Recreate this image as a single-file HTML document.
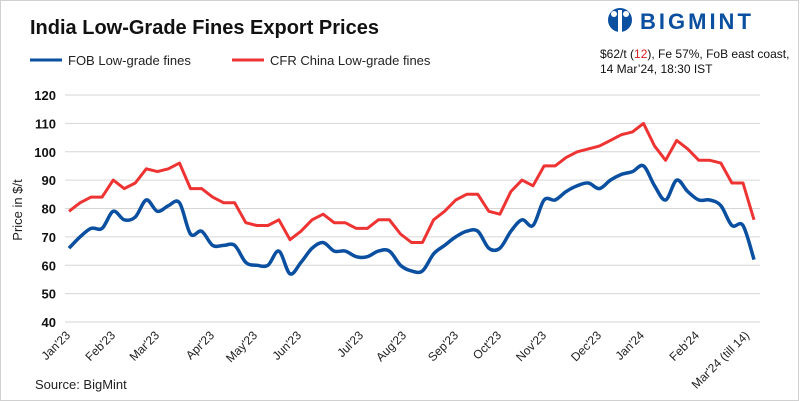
<!DOCTYPE html>
<html><head><meta charset="utf-8"><style>
body{margin:0;background:#fff;}
svg{display:block;font-family:"Liberation Sans",sans-serif;}
</style></head><body>
<svg id="s" width="800" height="401" xmlns="http://www.w3.org/2000/svg">
<rect x="0.5" y="0.5" width="798" height="400" fill="#fff" stroke="#d0d0d0"/>
<text x="30" y="34" font-size="20" font-weight="bold" fill="#111">India Low-Grade Fines Export Prices</text>
<line x1="30" y1="60" x2="62" y2="60" stroke="#0a4fa0" stroke-width="3"/>
<text x="68" y="65" font-size="13" fill="#222">FOB Low-grade fines</text>
<line x1="232" y1="60" x2="264" y2="60" stroke="#ee3333" stroke-width="3"/>
<text x="270" y="65" font-size="13" fill="#222">CFR China Low-grade fines</text>
<g fill="#0a4fa0">
<circle cx="620" cy="20" r="12"/>
<text x="640" y="29" font-size="22" font-weight="bold" letter-spacing="3">BIGMINT</text>
</g>
<g fill="#fff"><circle cx="614" cy="14" r="3"/><circle cx="626" cy="14" r="3"/><rect x="618" y="10" width="4" height="22"/></g>
<text x="600" y="58" font-size="12" fill="#111">$62/t (<tspan fill="#e02020">12</tspan>), Fe 57%, FoB east coast,</text>
<text x="600" y="73" font-size="12" fill="#111">14 Mar’24, 18:30 IST</text>
<g id="grid"></g>
<text transform="translate(22,210) rotate(-90)" font-size="13" text-anchor="middle" fill="#222">Price in $/t</text>
<g id="xl" font-size="12" fill="#222" text-anchor="end"></g>
<path id="red" fill="none" stroke="#ee3333" stroke-width="3" stroke-linejoin="round"/>
<path id="blue" fill="none" stroke="#0a4fa0" stroke-width="3.5" stroke-linejoin="round"/>
<text x="35" y="389" font-size="13" fill="#222">Source: BigMint</text>
</svg>
<script>
var NS="http://www.w3.org/2000/svg";
function Y(v){return 95+(120-v)*2.8375;}
function X(i){return 69+i*(754-69)/62;}
var g=document.getElementById('grid'),h='';
for(var v=40;v<=120;v+=10){h+='<line x1="65" x2="760" y1="'+Y(v)+'" y2="'+Y(v)+'" stroke="#d6d6d6" stroke-width="1"/>';
h+='<text x="56" y="'+(Y(v)+5)+'" font-size="13" font-weight="bold" text-anchor="end" fill="#111">'+v+'</text>';}
g.innerHTML=h;
var labs=[["Jan'23",71],["Feb'23",116],["Mar'23",160],["Apr'23",215],["May'23",258],["Jun'23",302],["Jul'23",364],["Aug'23",407],["Sep'23",459],["Oct'23",502],["Nov'23",547],["Dec'23",602],["Jan'24",645],["Feb'24",700],["Mar'24 (till 14)",750]];
h='';labs.forEach(function(l){h+='<text transform="translate('+l[1]+',336) rotate(-45)">'+l[0]+'</text>';});
document.getElementById('xl').innerHTML=h;
var red=[79,82,84,84,90,87,89,94,93,94,96,87,87,84,82,82,75,74,74,76,69,72,76,78,75,75,73,73,76,76,71,68,68,76,79,83,85,85,79,78,86,90,88,95,95,98,100,101,102,104,106,107,110,102,97,104,101,97,97,96,89,89,76];
var blue=[66,70,73,73,79,76,77,83,79,81,82,71,72,67,67,67,61,60,60,65,57,61,66,68,65,65,63,63,65,65,60,58,58,64,67,70,72,72,66,66,72,76,74,83,83,86,88,89,87,90,92,93,95,88,83,90,86,83,83,81,74,74,62];
var d='';red.forEach(function(v,i){d+=(i?'L':'M')+X(i).toFixed(1)+' '+Y(v).toFixed(1);});
document.getElementById('red').setAttribute('d',d);
var p=blue.map(function(v,i){return [X(i),Y(v)];});
d='M'+p[0][0]+' '+p[0][1];
for(var i=0;i<p.length-1;i++){var p0=p[i?i-1:0],p1=p[i],p2=p[i+1],p3=p[i+2<p.length?i+2:i+1];
d+='C'+(p1[0]+(p2[0]-p0[0])/6).toFixed(1)+' '+(p1[1]+(p2[1]-p0[1])/6).toFixed(1)+' '+(p2[0]-(p3[0]-p1[0])/6).toFixed(1)+' '+(p2[1]-(p3[1]-p1[1])/6).toFixed(1)+' '+p2[0].toFixed(1)+' '+p2[1].toFixed(1);}
document.getElementById('blue').setAttribute('d',d);
</script>
</body></html>
